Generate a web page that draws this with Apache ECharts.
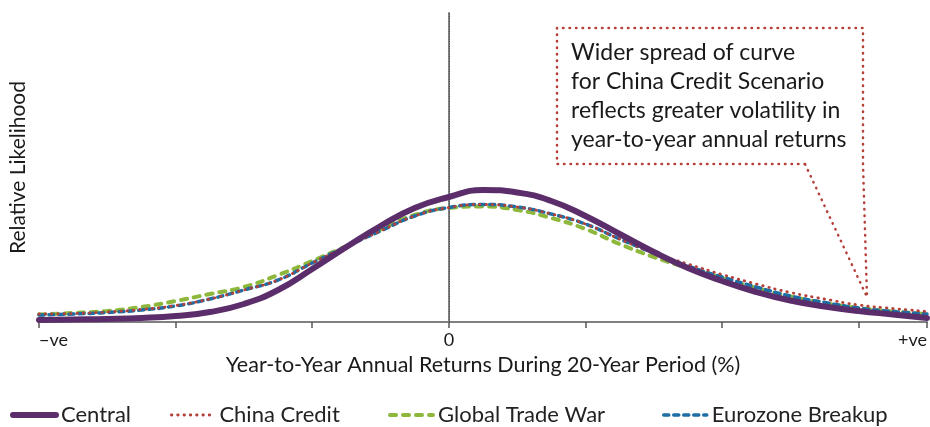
<!DOCTYPE html>
<html>
<head>
<meta charset="utf-8">
<script src="https://cdn.jsdelivr.net/npm/echarts@6/dist/echarts.min.js"></script>
<style>
html,body{margin:0;padding:0;background:#fff;}
#chart{width:930px;height:427px;}
</style>
</head>
<body>
<div id="chart"></div>
<script>
// x positions (standardised return units; 0 = zero return)
var xValues = [-3, -2.75, -2.5, -2.25, -2, -1.75, -1.5, -1.25, -1, -0.75, -0.5, -0.25, 0, 0.25, 0.5, 0.75, 1, 1.25, 1.5, 1.75, 2, 2.25, 2.5, 2.75, 3, 3.25, 3.5];
var central      = [2, 2.5, 3, 4, 6, 10, 18, 32, 53, 75, 96, 114, 125, 132, 129.5, 121, 106, 88, 70, 54, 41, 30, 21.5, 15.5, 11, 7.5, 4];
var chinaCredit  = [8, 8.5, 10, 12.5, 16.5, 23, 32, 42, 59, 75.5, 91, 106, 114.5, 117.5, 115, 108, 98, 83, 69, 58, 47.5, 38, 29.5, 23, 17, 13.5, 10.5];
var globalTrade  = [7.5, 9, 11, 15, 21, 28, 35, 47, 61, 76, 92.5, 107, 114, 115.5, 112, 104, 93, 78, 65, 54, 44, 34, 25.5, 19, 14, 10.5, 8];
var eurozone     = [7, 8, 9.5, 12, 16, 23, 32, 42, 59, 75.5, 91, 106, 114.5, 117.5, 115, 108, 98, 83, 69, 56, 45, 35, 26, 19.5, 14, 10.5, 8];
var seriesNames  = ['Central', 'China Credit', 'Global Trade War', 'Eurozone Breakup'];
var tickValues   = [-3, 0, 3.5];
var tickLabels   = ['\u2212ve', '0', '+ve'];
var xTitle = 'Year-to-Year Annual Returns During 20-Year Period (%)';
var yTitle = 'Relative Likelihood';
var noteText = ['Wider spread of curve', 'for China Credit Scenario', 'reflects greater volatility in', 'year-to-year annual returns'];

function pairs(ys){ return xValues.map(function(x,i){ return [x, ys[i]]; }); }

var FONT = 'Lato';
var legendLefts = [10, 170, 388, 662];
var legends = seriesNames.map(function(n, i){
  return {
    left: legendLefts[i], top: 404, padding: 0, itemWidth: 43, itemHeight: 14,
    data: [n],
    textStyle: { fontSize: 22, color: '#222', fontFamily: FONT },
    lineStyle: { width: 'inherit' },
    itemStyle: { opacity: 0 }
  };
});

var chart = echarts.init(document.getElementById('chart'));
chart.setOption({
  animation: false,
  backgroundColor: '#fff',
  textStyle: { fontFamily: FONT },
  grid: { left: 38, right: 0, top: 13, bottom: 105 },
  xAxis: {
    type: 'value', min: -3, max: 3.5, interval: 1,
    name: xTitle, nameLocation: 'middle', nameGap: 31,
    nameTextStyle: { fontSize: 21.5, color: '#1a1a1a', fontFamily: FONT },
    axisLine: { lineStyle: { color: '#808080', width: 2 } },
    axisTick: { show: true, inside: false, length: 6, lineStyle: { color: '#555', width: 1.5 } },
    splitLine: { show: false },
    axisLabel: {
      margin: 9, fontSize: 18, color: '#1a1a1a', fontFamily: FONT,
      showMinLabel: true, showMaxLabel: true,
      alignMinLabel: 'left', alignMaxLabel: 'right',
      formatter: function(v){ var i = tickValues.indexOf(v); return i >= 0 ? tickLabels[i] : ''; }
    }
  },
  yAxis: {
    type: 'value', min: 0, max: 309,
    name: yTitle, nameLocation: 'middle', nameGap: 10,
    nameTextStyle: { fontSize: 21, color: '#1a1a1a', fontFamily: FONT },
    axisLine: { show: true, lineStyle: { color: '#808080', width: 2 } },
    axisTick: { show: false }, axisLabel: { show: false }, splitLine: { show: false }
  },
  legend: legends,
  series: [
    { name: seriesNames[0], type: 'line', data: pairs(central), smooth: 0.5, showSymbol: false, symbol: 'none', z: 5,
      lineStyle: { color: '#5C2D6B', width: 6, cap: 'round' }, itemStyle: { color: '#5C2D6B' } },
    { name: seriesNames[1], type: 'line', data: pairs(chinaCredit), smooth: 0.5, showSymbol: false, symbol: 'none', z: 4,
      lineStyle: { color: '#B5403A', width: 2.8, type: [0.5, 5.8], cap: 'round' }, itemStyle: { color: '#B5403A' } },
    { name: seriesNames[2], type: 'line', data: pairs(globalTrade), smooth: 0.5, showSymbol: false, symbol: 'none', z: 2,
      lineStyle: { color: '#8DB83B', width: 4, type: [6, 7], cap: 'round' }, itemStyle: { color: '#8DB83B' } },
    { name: seriesNames[3], type: 'line', data: pairs(eurozone), smooth: 0.5, showSymbol: false, symbol: 'none', z: 3,
      lineStyle: { color: '#1C6EA4', width: 3.5, type: [5, 5], cap: 'round' }, itemStyle: { color: '#1C6EA4' },
      markLine: { silent: true, symbol: 'none', label: { show: false },
        lineStyle: { color: '#444', width: 1, type: [1, 1.5] },
        data: [{ xAxis: 0 }] } }
  ],
  graphic: [
    { type: 'polyline', z: 10, silent: true,
      shape: { points: [[805,164],[557,164],[557,28],[863,28],[863,164],[867,297],[805,164]] },
      style: { fill: null, stroke: '#B5403A', lineWidth: 2.5, lineDash: [0.5, 6], lineCap: 'round' } },
    { type: 'text', left: 571, top: 38, z: 11, silent: true,
      style: { text: noteText.join('\n'), font: '23px ' + FONT, fill: '#1a1a1a', lineHeight: 29 } }
  ]
});
</script>
</body>
</html>
